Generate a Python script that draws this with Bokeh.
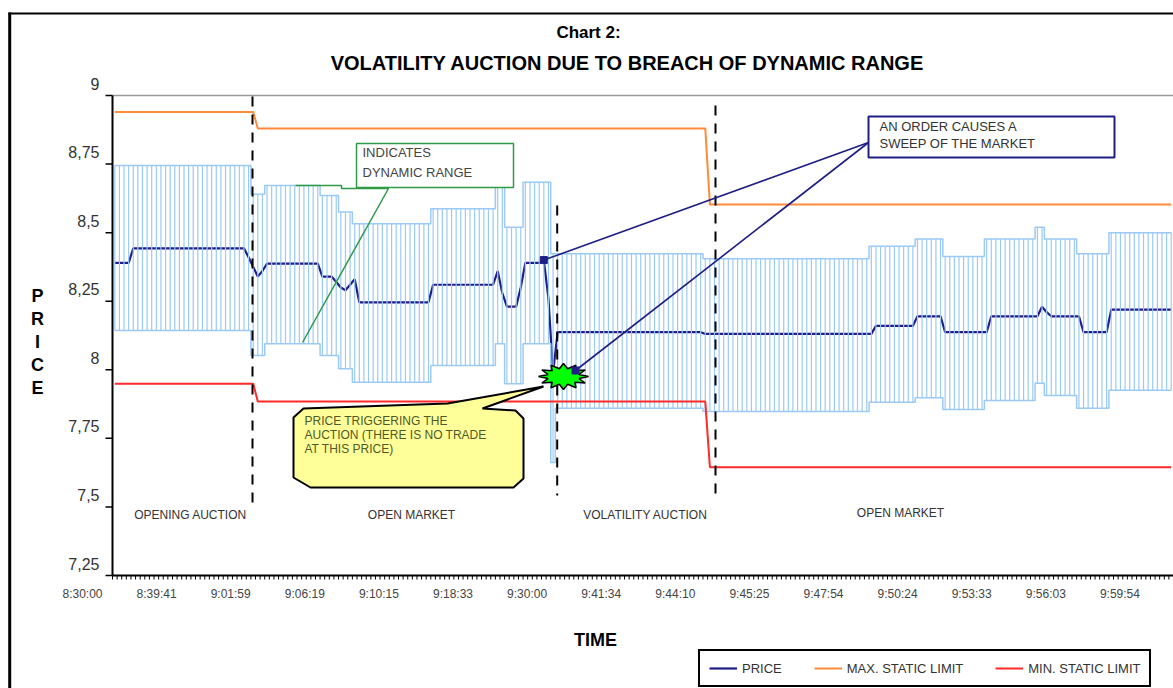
import math
from bokeh.plotting import figure
from bokeh.models import Range1d, Label, Legend, LegendItem
from bokeh.embed import file_html
from bokeh.resources import INLINE

FONT = "Liberation Sans"

# ------------------------------------------------------------------ data
N_POINTS = 230  # trading time points shown on the category axis

tick_labels = ["8:30:00", "8:39:41", "9:01:59", "9:06:19", "9:10:15", "9:18:33",
               "9:30:00", "9:41:34", "9:44:10", "9:45:25", "9:47:54", "9:50:24",
               "9:53:33", "9:56:03", "9:59:54"]
y_ticks = [7.25, 7.5, 7.75, 8.0, 8.25, 8.5, 8.75, 9.0]

# price (change points: index where a new value starts, value)
price_change_idx = [0, 4, 29, 30, 31, 32, 33, 45, 48, 49, 50, 51, 52, 53, 69, 83, 84, 85,
                    88, 89, 93, 94, 95, 96, 128, 165, 174, 180, 190, 201, 202, 203, 210, 216]
price_change_val = [8.39, 8.443, 8.41, 8.375, 8.34, 8.36, 8.387, 8.34, 8.32, 8.30, 8.29,
                    8.31, 8.33, 8.246, 8.31, 8.36, 8.28, 8.23, 8.30, 8.39, 8.40, 8.26, 7.99,
                    8.137, 8.131, 8.16, 8.195, 8.137, 8.195, 8.23, 8.21, 8.195, 8.137, 8.219]

# dynamic range (upper / lower limit)
dyn_change_idx = [0, 30, 33, 45, 49, 52, 69, 83, 85, 89, 95, 96, 128, 164, 174, 180, 189,
                  200, 202, 209, 216]
dyn_upper_val = [8.745, 8.64, 8.672, 8.635, 8.575, 8.532, 8.587, 8.666, 8.52, 8.684, 8.423,
                 8.423, 8.405, 8.45, 8.477, 8.413, 8.477, 8.52, 8.477, 8.423, 8.50]
dyn_lower_val = [8.143, 8.052, 8.095, 8.052, 8.004, 7.955, 8.016, 8.095, 7.949, 8.095, 7.662,
                 7.86, 7.848, 7.882, 7.898, 7.855, 7.888, 7.951, 7.906, 7.86, 7.925]

# static limits
static_change_idx = [0, 31, 129]
max_static_val = [8.94, 8.88, 8.603]
min_static_val = [7.949, 7.884, 7.645]

phase_names = ["OPENING AUCTION", "OPEN MARKET", "VOLATILITY AUCTION", "OPEN MARKET"]


def hold(change_idx, change_val, n):
    out, k = [], 0
    for i in range(n):
        while k + 1 < len(change_idx) and change_idx[k + 1] <= i:
            k += 1
        out.append(change_val[k])
    return out


xs = list(range(N_POINTS))
price = hold(price_change_idx, price_change_val, N_POINTS)
dyn_up = hold(dyn_change_idx, dyn_upper_val, N_POINTS)
dyn_lo = hold(dyn_change_idx, dyn_lower_val, N_POINTS)
max_static = hold(static_change_idx, max_static_val, N_POINTS)
min_static = hold(static_change_idx, min_static_val, N_POINTS)

# ------------------------------------------------------------------ layout helpers (page px -> data)
W, H = 1173, 688
PLOT_L, PLOT_R, PLOT_T, PLOT_B = 112, 1173, 95, 575
Y_MIN, Y_MAX = 7.25, 9.0
X_PX = (PLOT_R - PLOT_L) / N_POINTS
Y_PX = (PLOT_B - PLOT_T) / (Y_MAX - Y_MIN)


def dx(px):
    return (px - PLOT_L) / X_PX - 0.5


def dy(py):
    return Y_MAX - (py - PLOT_T) / Y_PX


NAVY = "#1E1E86"
BAR = "#9CCAF6"
ORANGE = "#FF8A3A"
RED = "#FF2A2A"
GREEN = "#2F9B47"

p = figure(width=W, height=H, output_backend="svg", toolbar_location=None, title=None,
           x_axis_type=None, y_axis_type=None,
           x_range=Range1d(dx(0), dx(W)), y_range=Range1d(dy(H), dy(0)),
           min_border=0)
p.xgrid.visible = False
p.ygrid.visible = False
p.outline_line_color = None
p.background_fill_color = "white"
p.border_fill_color = "white"

X0, X1 = -0.5, N_POINTS - 0.5

# outer chart border (left / top)
p.segment(x0=[dx(9.2), dx(8)], y0=[dy(12), dy(13)], x1=[dx(9.2), dx(W)], y1=[dy(H), dy(13)],
          line_color="black", line_width=[3, 2])

# plot-area top border
p.segment(x0=[X0], y0=[Y_MAX], x1=[X1], y1=[Y_MAX], line_color="#9a9a9a", line_width=1.5)

# ------------------------------------------------------------------ series
price_r = p.line(xs, price, line_color=NAVY, line_width=2.2)
p.segment(x0=xs, y0=dyn_lo, x1=xs, y1=dyn_up, line_color=BAR, line_width=1.2)
p.step(xs, dyn_up, mode="center", line_color=BAR, line_width=1.5)
p.step(xs, dyn_lo, mode="center", line_color=BAR, line_width=1.5)
max_r = p.line(xs, max_static, line_color=ORANGE, line_width=2)
min_r = p.line(xs, min_static, line_color=RED, line_width=2)

# ------------------------------------------------------------------ axes (drawn by hand)
bounds = [i + 0.5 for i in range(-1, N_POINTS)]
p.segment(x0=bounds, y0=[Y_MIN] * len(bounds), x1=bounds,
          y1=[Y_MIN - 4 / Y_PX] * len(bounds), line_color="black", line_width=1)
p.segment(x0=[X0] * len(y_ticks), y0=y_ticks, x1=[X0 - 7 / X_PX] * len(y_ticks), y1=y_ticks,
          line_color="black", line_width=1.5)
p.segment(x0=[X0, X0], y0=[Y_MIN, Y_MIN], x1=[X1, X0], y1=[Y_MIN, Y_MAX],
          line_color="black", line_width=2)

# phase separators
p.segment(x0=[dx(252), dx(556.7), dx(715)], y0=[dy(96), dy(205), dy(105)],
          x1=[dx(252), dx(556.7), dx(715)], y1=[dy(505), dy(495), dy(498)],
          line_color="black", line_width=2, line_dash="10 8")

# ------------------------------------------------------------------ callouts
# dynamic range callout
p.line([dx(295), dx(341), dx(341), dx(388), dx(302)],
       [dy(185), dy(185), dy(188), dy(188), dy(342)], line_color=GREEN, line_width=1.5)
p.quad(left=[dx(356)], right=[dx(513)], top=[dy(143)], bottom=[dy(187)],
       fill_color="white", line_color=GREEN, line_width=1.5)

# sweep callout
p.segment(x0=[dx(868), dx(868)], y0=[dy(142), dy(142)],
          x1=[93, dx(575)], y1=[price[93], dy(370)], line_color=NAVY, line_width=1.6)
p.quad(left=[dx(868)], right=[dx(1114)], top=[dy(116)], bottom=[dy(157)],
       fill_color="white", line_color=NAVY, line_width=2)

# trigger price callout (yellow)
call_px = [(293, 417), (303, 408), (447, 403), (543, 386), (482, 408), (515, 410),
           (523, 418), (523, 478), (513, 487), (310, 487), (293, 477)]
p.patch([dx(a) for a, b in call_px], [dy(b) for a, b in call_px],
        fill_color="#FFFF99", line_color="black", line_width=2)

# star
cx, cy = dx(563), dy(376)
sx, sy = [], []
for k in range(24):
    ang = 2 * math.pi * k / 24
    rx = 25 if k % 2 == 0 else 16
    ry = 13 if k % 2 == 0 else 8
    sx.append(cx + rx / X_PX * math.cos(ang))
    sy.append(cy + ry / Y_PX * math.sin(ang))
p.patch(sx, sy, fill_color="#00FF00", line_color="black", line_width=1.5)

p.scatter([93, dx(575)], [price[93], dy(370)], marker="square", size=7,
          fill_color=NAVY, line_color=NAVY)


# ------------------------------------------------------------------ texts
def lab(px, py, text, size, align="center", bold=False, color="#222222"):
    p.add_layout(Label(x=dx(px), y=dy(py), text=text, text_font=FONT,
                       text_font_size=f"{size}px",
                       text_font_style="bold" if bold else "normal",
                       text_color=color, text_align=align, text_baseline="middle"))


lab(588, 32, "Chart 2:", 17, bold=True, color="black")
lab(627, 62, "VOLATILITY AUCTION DUE TO BREACH OF DYNAMIC RANGE", 20, bold=True, color="black")
lab(595, 639, "TIME", 18, bold=True, color="black")

p.add_layout(Label(x=dx(37), y=dy(341), text="P\nR\nI\nC\nE", text_font=FONT,
                   text_font_size="18px", text_font_style="bold", text_color="black",
                   text_align="center", text_baseline="middle", text_line_height=1.15))

for v in y_ticks:
    t = f"{v:g}".replace(".", ",")
    p.add_layout(Label(x=dx(99), y=v + 12 / Y_PX, text=t, text_font=FONT,
                       text_font_size="16px", text_color="#333333",
                       text_align="right", text_baseline="middle"))

for k, t in enumerate(tick_labels):
    lab(82 + 74.1 * k, 593, t, 12, color="#444444")

for (cxp, cyp), name in zip([(190, 514), (411, 514), (645, 514), (900, 512)], phase_names):
    lab(cxp, cyp, name, 12, color="#333333")

lab(362, 152, "INDICATES", 13, align="left", color="#444444")
lab(362, 172, "DYNAMIC RANGE", 13, align="left", color="#444444")
lab(879, 126, "AN ORDER CAUSES A", 13, align="left", color="#333333")
lab(879, 143, "SWEEP OF THE MARKET", 13, align="left", color="#333333")
lab(304, 420, "PRICE TRIGGERING THE", 12, align="left", color="#4f5a26")
lab(304, 434, "AUCTION (THERE IS NO TRADE", 12, align="left", color="#4f5a26")
lab(304, 448, "AT THIS PRICE)", 12, align="left", color="#4f5a26")

# ------------------------------------------------------------------ legend
legend = Legend(items=[LegendItem(label="PRICE", renderers=[price_r]),
                       LegendItem(label="MAX. STATIC LIMIT", renderers=[max_r]),
                       LegendItem(label="MIN. STATIC LIMIT", renderers=[min_r])],
                orientation="horizontal", location=(698, 1),
                border_line_color="black", border_line_alpha=1, border_line_width=2,
                padding=9, spacing=32,
                label_text_font=FONT, label_text_font_size="13px", label_text_color="#333333",
                glyph_width=28, glyph_height=16, label_standoff=5, margin=0,
                background_fill_color="white", background_fill_alpha=1)
p.add_layout(legend)

with open("out.html", "w") as f:
    f.write(file_html(p, INLINE))
